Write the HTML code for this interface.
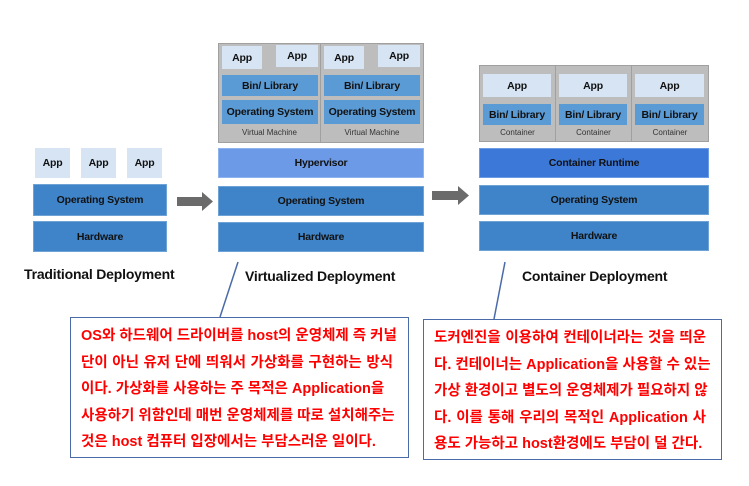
<!DOCTYPE html>
<html><head><meta charset="utf-8"><style>
body{margin:0;width:749px;height:486px;background:#fff;position:relative;overflow:hidden;font-family:"Liberation Sans","Noto Sans CJK KR",sans-serif}
.b{position:absolute;display:flex;align-items:center;justify-content:center;font-weight:bold;font-size:10.5px;letter-spacing:-0.2px;color:#111;box-sizing:border-box;white-space:nowrap}
.app{background:#d6e4f3}
.dk{background:#3f84c8;border:1px solid #6fa3d6}
.md{background:#5b9bd5}
.g{position:absolute;background:#bdbdbd;border:1px solid #a0a0a0;box-sizing:border-box}
.lbl{position:absolute;font-size:8px;color:#333;text-align:center}
.t{position:absolute;font-weight:bold;font-size:14px;color:#111;letter-spacing:-0.2px}
.box{position:absolute;border:1.5px solid #4a6aa8;box-sizing:border-box;color:#f00;font-size:14.5px;line-height:26.5px;font-weight:bold}
.box div{text-align:justify;text-align-last:justify;white-space:nowrap}
.box div.l{text-align-last:left}
</style></head><body>
<div class="b app" style="left:35px;top:148px;width:35px;height:30px">App</div>
<div class="b app" style="left:81px;top:148px;width:35px;height:30px">App</div>
<div class="b app" style="left:127px;top:148px;width:35px;height:30px">App</div>
<div class="b dk" style="left:33px;top:184px;width:134px;height:32px">Operating System</div>
<div class="b dk" style="left:33px;top:221px;width:134px;height:31px">Hardware</div>
<div class="t" style="left:24px;top:266px">Traditional Deployment</div>
<svg style="position:absolute;left:0;top:0" width="749" height="486">
<polygon points="177,197 202,197 202,192 213,201.5 202,211 202,206 177,206" fill="#6b6b6b"/>
<polygon points="432,191 458,191 458,186 469,195.5 458,205 458,200 432,200" fill="#6b6b6b"/>
<line x1="238" y1="262" x2="220" y2="317" stroke="#4a6aa8" stroke-width="1.5"/>
<line x1="505" y1="262" x2="494" y2="319" stroke="#4a6aa8" stroke-width="1.5"/>
</svg>
<div class="g" style="left:218px;top:43px;width:103px;height:100px"></div>
<div class="g" style="left:320px;top:43px;width:104px;height:100px"></div>
<div class="b app" style="left:222px;top:46px;width:40px;height:23px">App</div>
<div class="b app" style="left:276px;top:45px;width:42px;height:22px">App</div>
<div class="b app" style="left:324px;top:46px;width:40px;height:23px">App</div>
<div class="b app" style="left:378px;top:45px;width:42px;height:22px">App</div>
<div class="b md" style="left:222px;top:75px;width:96px;height:21px">Bin/ Library</div>
<div class="b md" style="left:324px;top:75px;width:96px;height:21px">Bin/ Library</div>
<div class="b md" style="left:222px;top:100px;width:96px;height:24px">Operating System</div>
<div class="b md" style="left:324px;top:100px;width:96px;height:24px">Operating System</div>
<div class="lbl" style="left:218px;top:128px;width:103px">Virtual Machine</div>
<div class="lbl" style="left:320px;top:128px;width:104px">Virtual Machine</div>
<div class="b" style="left:218px;top:148px;width:206px;height:30px;background:#6c9ae6;border:1px solid #8fb3ee">Hypervisor</div>
<div class="b dk" style="left:218px;top:186px;width:206px;height:30px">Operating System</div>
<div class="b dk" style="left:218px;top:222px;width:206px;height:30px">Hardware</div>
<div class="t" style="left:245px;top:268px">Virtualized Deployment</div>
<div class="g" style="left:479px;top:65px;width:77px;height:77px"></div>
<div class="g" style="left:555px;top:65px;width:77px;height:77px"></div>
<div class="g" style="left:631px;top:65px;width:78px;height:77px"></div>
<div class="b app" style="left:483px;top:74px;width:68px;height:23px">App</div>
<div class="b app" style="left:559px;top:74px;width:68px;height:23px">App</div>
<div class="b app" style="left:635px;top:74px;width:69px;height:23px">App</div>
<div class="b md" style="left:483px;top:104px;width:68px;height:21px">Bin/ Library</div>
<div class="b md" style="left:559px;top:104px;width:68px;height:21px">Bin/ Library</div>
<div class="b md" style="left:635px;top:104px;width:69px;height:21px">Bin/ Library</div>
<div class="lbl" style="left:479px;top:128px;width:77px">Container</div>
<div class="lbl" style="left:555px;top:128px;width:77px">Container</div>
<div class="lbl" style="left:631px;top:128px;width:78px">Container</div>
<div class="b" style="left:479px;top:148px;width:230px;height:30px;background:#3c78d8;border:1px solid #6d9be3">Container Runtime</div>
<div class="b dk" style="left:479px;top:185px;width:230px;height:30px">Operating System</div>
<div class="b dk" style="left:479px;top:221px;width:230px;height:30px">Hardware</div>
<div class="t" style="left:522px;top:268px">Container Deployment</div>
<div class="box" style="left:70px;top:317px;width:339px;height:141px;padding:5px 15px 0 10px">
<div>OS와 하드웨어 드라이버를 host의 운영체제 즉 커널</div>
<div>단이 아닌 유저 단에 띄워서 가상화를 구현하는 방식</div>
<div class="l">이다. 가상화를 사용하는 주 목적은 Application을</div>
<div>사용하기 위함인데 매번 운영체제를 따로 설치해주는</div>
<div class="l">것은 host 컴퓨터 입장에서는 부담스러운 일이다.</div>
</div>
<div class="box" style="left:423px;top:319px;width:299px;height:141px;padding:5px 15px 0 10px">
<div>도커엔진을 이용하여 컨테이너라는 것을 띄운</div>
<div>다. 컨테이너는 Application을 사용할 수 있는</div>
<div>가상 환경이고 별도의 운영체제가 필요하지 않</div>
<div>다. 이를 통해 우리의 목적인 Application 사</div>
<div class="l">용도 가능하고 host환경에도 부담이 덜 간다.</div>
</div>
</body></html>
